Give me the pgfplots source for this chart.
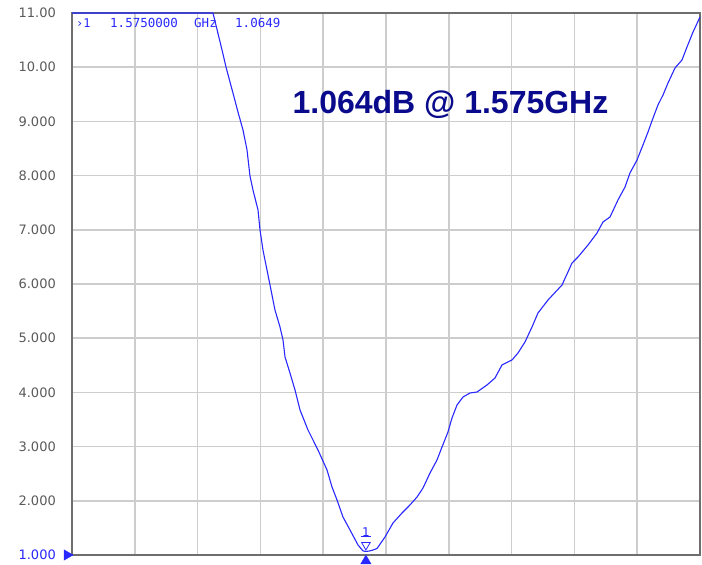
\documentclass[border=0pt]{standalone}
\usepackage{pgfplots}
\pgfplotsset{compat=1.18}
\usepackage{fontspec}
\setmainfont{Liberation Sans}
\newfontfamily\tickfont{DejaVu Sans}
\newfontfamily\monofont{DejaVu Sans Mono}
\definecolor{trace}{RGB}{40,40,255}
\definecolor{navy}{RGB}{10,10,140}
\definecolor{gridc}{RGB}{205,205,205}
\definecolor{framec}{RGB}{110,110,110}
\definecolor{tickc}{RGB}{90,90,90}
\begin{document}
\begin{tikzpicture}[x=1pt,y=1pt]
\useasboundingbox (0,0) rectangle (702,565);
\begin{axis}[
  at={(72pt,10pt)}, anchor=south west,
  scale only axis, width=628pt, height=542pt,
  xmin=0, xmax=10, ymin=1, ymax=11,
  xtick={0,1,...,10}, xticklabels={},
  ytick={1,2,...,11},
  yticklabels={\textcolor{trace}{1.000},2.000,3.000,4.000,5.000,6.000,7.000,8.000,9.000,10.00,11.00},
  yticklabel style={font=\tickfont\fontsize{13}{13}\selectfont, text=tickc, anchor=east, inner sep=0pt, xshift=-16pt},
  major tick length=0pt,
  grid=major,
  major grid style={gridc, line width=1.5pt},
  axis line style={framec, line width=1.3pt},
  clip=false,
]
\addplot[trace, line width=1.1pt] coordinates {
(0,11) (1,11) (2,11) (2.245,11) (2.389,10.317) (2.452,10.004) (2.580,9.450) (2.643,9.173)
(2.723,8.841) (2.787,8.472) (2.834,7.993) (2.882,7.734) (2.962,7.365) (2.994,6.996)
(3.041,6.627) (3.105,6.258) (3.153,5.982) (3.232,5.520) (3.312,5.207) (3.360,4.967)
(3.392,4.653) (3.471,4.358) (3.551,4.044) (3.631,3.675) (3.758,3.306) (3.917,2.937)
(4.061,2.568) (4.140,2.255) (4.220,2.015) (4.315,1.701) (4.427,1.461) (4.554,1.185)
(4.634,1.075) (4.680,1.065) (4.740,1.075) (4.800,1.095) (4.857,1.120) (4.984,1.332)
(5.111,1.590) (5.255,1.775) (5.382,1.923) (5.494,2.070) (5.589,2.236) (5.701,2.513)
(5.812,2.753) (5.892,2.993) (5.987,3.269) (6.051,3.528) (6.131,3.768) (6.226,3.915)
(6.338,3.989) (6.449,4.007) (6.608,4.137) (6.736,4.266) (6.847,4.506) (7.006,4.598)
(7.102,4.727) (7.213,4.930) (7.325,5.207) (7.420,5.465) (7.580,5.705) (7.803,5.982)
(7.962,6.387) (8.057,6.498) (8.217,6.720) (8.360,6.941) (8.455,7.144) (8.567,7.236)
(8.694,7.550) (8.806,7.790) (8.885,8.048) (8.997,8.288) (9.092,8.565) (9.172,8.804)
(9.252,9.063) (9.331,9.303) (9.411,9.487) (9.490,9.708) (9.602,9.985) (9.713,10.133)
(9.793,10.373) (9.889,10.649) (10.0,10.926)
};
% marker 1 on the trace
\addplot[trace, only marks, mark=triangle, mark size=5pt,
  mark options={yshift=6.5pt, rotate=180, line width=0.8pt, fill=none}]
  coordinates {(4.68,1.065)};
\addplot[trace, only marks, mark=-, mark size=5pt,
  mark options={yshift=15pt, line width=0.8pt}]
  coordinates {(4.68,1.065)}
  node[above, yshift=15pt, inner sep=0pt, font=\tickfont\fontsize{12}{12}\selectfont, text=trace] {1};
% stimulus marker below axis
\addplot[trace, only marks, mark=triangle*, mark size=6pt,
  mark options={yshift=-6pt}]
  coordinates {(4.68,1)};
% reference level marker at left
\addplot[trace, only marks, mark=triangle*, mark size=6pt,
  mark options={xshift=-5pt, rotate=-90}]
  coordinates {(0,1)};
\end{axis}
\node[anchor=base west, inner sep=0pt, text=trace, font=\monofont\fontsize{12}{12}\selectfont] at (76,537) {›1};
\node[anchor=base west, inner sep=0pt, text=trace, font=\monofont\fontsize{12.5}{12}\selectfont] at (110,537) {1.5750000};
\node[anchor=base west, inner sep=0pt, text=trace, font=\monofont\fontsize{12.5}{12}\selectfont] at (194,537) {GHz};
\node[anchor=base west, inner sep=0pt, text=trace, font=\monofont\fontsize{12.5}{12}\selectfont] at (235,537) {1.0649};
\node[anchor=center, inner sep=0pt, text=navy, font=\bfseries\fontsize{32}{32}\selectfont] at (450.5,461) {1.064dB @ 1.575GHz};
\end{tikzpicture}
\end{document}
